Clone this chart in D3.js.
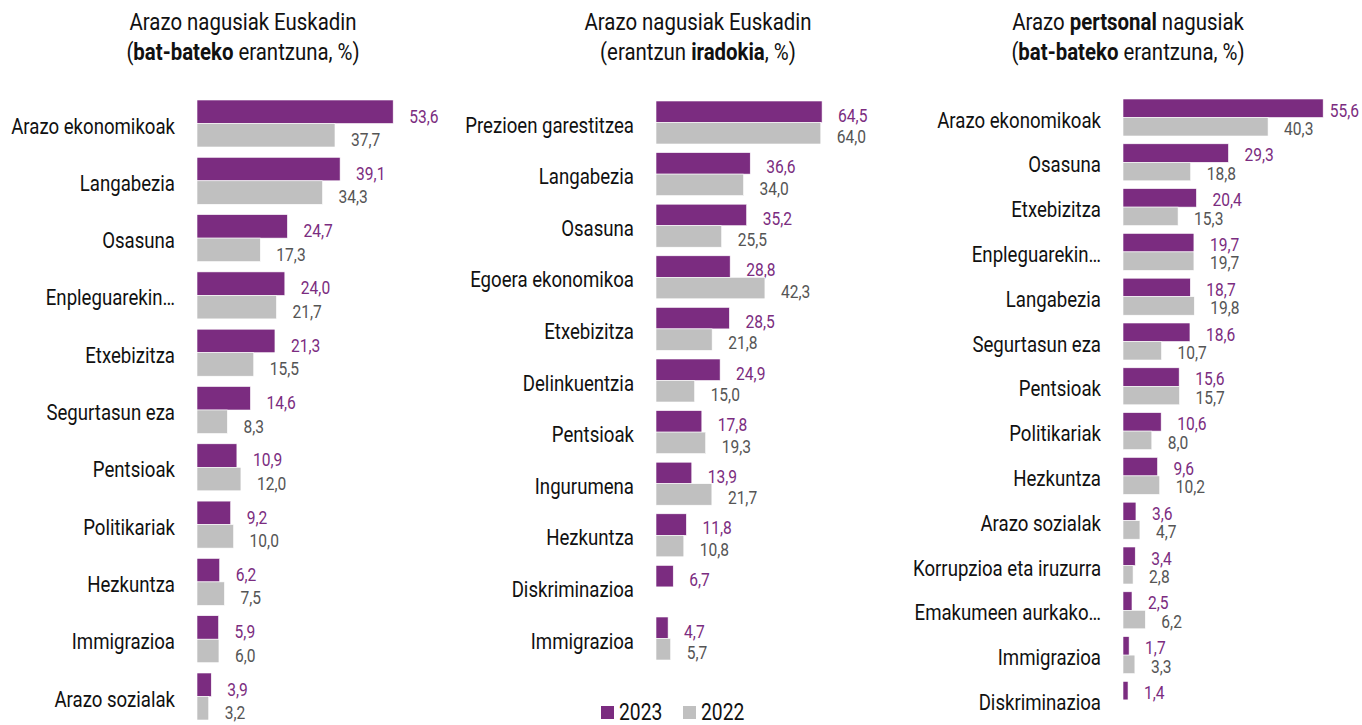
<!DOCTYPE html>
<html>
<head>
<meta charset="utf-8">
<script src="https://cdn.jsdelivr.net/npm/d3@7"></script>
<style>
  body { margin: 0; background: #fff; }
  svg text { font-family: "Roboto", "Liberation Sans", sans-serif; }
</style>
</head>
<body>
<svg id="chart" width="1362" height="725"></svg>
<script>
// panel 1: bat-bateko erantzuna
const cats1 = ["Arazo ekonomikoak", "Langabezia", "Osasuna", "Enpleguarekin…", "Etxebizitza",
  "Segurtasun eza", "Pentsioak", "Politikariak", "Hezkuntza", "Immigrazioa", "Arazo sozialak"];
const v1_2023 = [53.6, 39.1, 24.7, 24.0, 21.3, 14.6, 10.9, 9.2, 6.2, 5.9, 3.9];
const v1_2022 = [37.7, 34.3, 17.3, 21.7, 15.5, 8.3, 12.0, 10.0, 7.5, 6.0, 3.2];

// panel 2: erantzun iradokia
const cats2 = ["Prezioen garestitzea", "Langabezia", "Osasuna", "Egoera ekonomikoa", "Etxebizitza",
  "Delinkuentzia", "Pentsioak", "Ingurumena", "Hezkuntza", "Diskriminazioa", "Immigrazioa"];
const v2_2023 = [64.5, 36.6, 35.2, 28.8, 28.5, 24.9, 17.8, 13.9, 11.8, 6.7, 4.7];
const v2_2022 = [64.0, 34.0, 25.5, 42.3, 21.8, 15.0, 19.3, 21.7, 10.8, null, 5.7];

// panel 3: arazo pertsonalak
const cats3 = ["Arazo ekonomikoak", "Osasuna", "Etxebizitza", "Enpleguarekin…", "Langabezia",
  "Segurtasun eza", "Pentsioak", "Politikariak", "Hezkuntza", "Arazo sozialak",
  "Korrupzioa eta iruzurra", "Emakumeen aurkako…", "Immigrazioa", "Diskriminazioa"];
const v3_2023 = [55.6, 29.3, 20.4, 19.7, 18.7, 18.6, 15.6, 10.6, 9.6, 3.6, 3.4, 2.5, 1.7, 1.4];
const v3_2022 = [40.3, 18.8, 15.3, 19.7, 19.8, 10.7, 15.7, 8.0, 10.2, 4.7, 2.8, 6.2, 3.3, null];

const years = ["2023", "2022"];
const colors = {"2023": "#7b2c80", "2022": "#c0c0c0"};
const labelColors = {"2023": "#7b2c80", "2022": "#555555"};

const W = 1362;
const svg = d3.select("#chart");
const fmt = d => d3.format(".1f")(d).replace(".", ",");

// condensed look: squeeze text horizontally around its anchor
function squeezed(parent, x, y, sx) {
  return parent.append("g")
    .attr("transform", "translate(" + x + "," + y + ") scale(" + sx + ",1)")
    .append("text");
}

function panel(cfg) {
  const data = cfg.cats.map((c, i) => ({cat: c, "2023": cfg.a[i], "2022": cfg.b[i]}));

  const pad = 1 - cfg.group / cfg.step;
  const y0 = cfg.top - cfg.step * pad / 2;
  const yScale = d3.scaleBand()
    .domain(cfg.cats)
    .range([y0, y0 + cfg.cats.length * cfg.step])
    .paddingInner(pad)
    .paddingOuter(pad / 2);

  const ySub = d3.scaleBand()
    .domain(years)
    .range([0, yScale.bandwidth()]);

  const xScale = d3.scaleLinear()
    .domain([0, 10])
    .range([cfg.x0, cfg.x0 + cfg.k * 10]);

  const g = svg.append("g");

  // title
  cfg.title.forEach((line, li) => {
    const t = squeezed(g, cfg.tx, 30 + li * 30, 0.85)
      .attr("text-anchor", "middle")
      .attr("font-size", 24)
      .attr("fill", "#111");
    line.forEach(part => {
      t.append("tspan").attr("font-weight", part[1] ? "bold" : null).text(part[0]);
    });
  });

  data.forEach(d => {
    const yb = yScale(d.cat);

    squeezed(g, cfg.x0 - 22, yb + yScale.bandwidth() / 2 + 2, 0.81)
      .attr("dy", "0.35em")
      .attr("text-anchor", "end")
      .attr("font-size", 23)
      .attr("fill", "#111")
      .text(d.cat);

    years.forEach(yr => {
      if (d[yr] == null) return;
      g.append("rect")
        .attr("x", xScale(0))
        .attr("y", yb + ySub(yr))
        .attr("width", xScale(d[yr]) - xScale(0))
        .attr("height", ySub.bandwidth())
        .attr("fill", colors[yr])
        .attr("stroke", "#fff")
        .attr("stroke-width", 0.6);

      const sx = 0.82;
      const ly = yb + ySub(yr) + ySub.bandwidth() - 1;
      const lab = squeezed(g, xScale(d[yr]) + 16, ly, sx)
        .attr("font-size", 19)
        .attr("fill", labelColors[yr])
        .text(fmt(d[yr]));
      // keep label inside the picture
      const w = lab.node().getComputedTextLength() * sx;
      const lx = Math.min(xScale(d[yr]) + 16, W - 3 - w);
      d3.select(lab.node().parentNode)
        .attr("transform", "translate(" + lx + "," + ly + ") scale(" + sx + ",1)");
    });
  });
}

panel({
  cats: cats1, a: v1_2023, b: v1_2022,
  top: 100, step: 57.3, group: 47,
  x0: 197, k: 3.66, tx: 243,
  title: [[["Arazo nagusiak Euskadin", false]], [["(", false], ["bat-bateko", true], [" erantzuna, %)", false]]]
});

panel({
  cats: cats2, a: v2_2023, b: v2_2022,
  top: 101, step: 51.6, group: 43,
  x0: 656, k: 2.575, tx: 698,
  title: [[["Arazo nagusiak Euskadin", false]], [["(erantzun ", false], ["iradokia", true], [", %)", false]]]
});

panel({
  cats: cats3, a: v3_2023, b: v3_2022,
  top: 99, step: 44.8, group: 37,
  x0: 1123, k: 3.6, tx: 1128,
  title: [[["Arazo ", false], ["pertsonal", true], [" nagusiak", false]], [["(", false], ["bat-bateko", true], [" erantzuna, %)", false]]]
});

// legend
const legendX = d3.scaleOrdinal().domain(years).range([601, 683]);
years.forEach(yr => {
  svg.append("rect")
    .attr("x", legendX(yr))
    .attr("y", 706)
    .attr("width", 13)
    .attr("height", 13)
    .attr("fill", colors[yr]);
  squeezed(svg, legendX(yr) + 18, 720, 0.84)
    .attr("font-size", 23)
    .attr("fill", "#111")
    .text(yr);
});
</script>
</body>
</html>
